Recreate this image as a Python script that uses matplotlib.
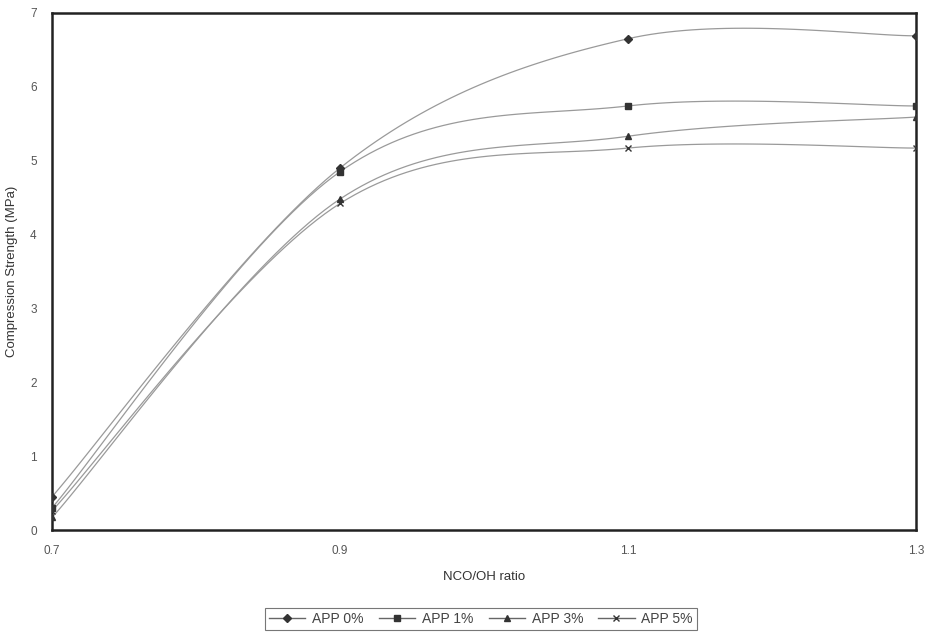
import numpy as np
import matplotlib
matplotlib.use("Agg")
import matplotlib.pyplot as plt

plt.rcParams['font.family'] = ['Liberation Sans', 'DejaVu Sans']

# data
ratio = [0.7, 0.9, 1.1, 1.3]
app0 = [0.45, 4.90, 6.65, 6.69]
app1 = [0.30, 4.85, 5.74, 5.74]
app3 = [0.17, 4.48, 5.33, 5.59]
app5 = [0.26, 4.42, 5.17, 5.17]
labels = ['APP 0%', 'APP 1%', 'APP 3%', 'APP 5%']
markers = ['D', 's', '^', 'x']


# smoothed line like a spreadsheet "smoothed line" chart (bezier through the points)
def smooth(x, y, n=40):
    p = np.column_stack([x, y]).astype(float)
    out = []
    for i in range(len(p) - 1):
        p0 = p[i - 1] if i > 0 else p[i]
        p1 = p[i]
        p2 = p[i + 1]
        p3 = p[i + 2] if i + 2 < len(p) else p[i + 1]
        c1 = p1 + (p2 - p0) / 6
        c2 = p2 - (p3 - p1) / 6
        t = np.linspace(0, 1, n)[:, None]
        seg = (1 - t) ** 3 * p1 + 3 * (1 - t) ** 2 * t * c1 + 3 * (1 - t) * t ** 2 * c2 + t ** 3 * p2
        out.append(seg if i == 0 else seg[1:])
    seg = np.vstack(out)
    return seg[:, 0], seg[:, 1]


fig = plt.figure(figsize=(9.34, 6.44), dpi=100)
ax = fig.add_axes([0.0557, 0.177, 0.925, 0.803])

for ys, lab, m in zip([app0, app1, app3, app5], labels, markers):
    sx, sy = smooth(ratio, ys)
    ax.plot(sx, sy, color='#9a9a9a', lw=0.9, zorder=2)
    ms = 4.5 if m != 'x' else 5
    ax.plot(ratio, ys, linestyle='none', marker=m, ms=ms, color='#333333',
            mec='#333333', mew=1.0, zorder=3)
    # legend proxy
    ax.plot([], [], color='#666666', lw=1.0, marker=m, ms=4, mec='#333333',
            mfc='#333333', label=lab)

ax.set_xlim(0.7, 1.3)
ax.set_ylim(0, 7)
ax.set_xticks(ratio)
ax.set_xticklabels(['0.7', '0.9', '1.1', '1.3'])
ax.set_yticks(range(8))
ax.tick_params(length=0, labelsize=8.5, labelcolor='#555555')
ax.tick_params(axis='x', pad=11)
ax.tick_params(axis='y', pad=11)
for s in ax.spines.values():
    s.set_linewidth(1.8)
    s.set_color('#222222')

ax.set_xlabel('NCO/OH ratio', fontsize=9.5, color='#333333', labelpad=10)
ax.set_ylabel('Compression Strength (MPa)', fontsize=9.5, color='#333333', labelpad=9)

leg = fig.legend(loc='center', bbox_to_anchor=(0.515, 0.039), ncol=4, fontsize=10,
                 frameon=True, fancybox=False, edgecolor='#555555',
                 handlelength=2.6, columnspacing=1.1, handletextpad=0.5,
                 borderpad=0.3)
leg.get_frame().set_linewidth(0.8)
for t in leg.get_texts():
    t.set_color('#444444')

fig.savefig('out.png', dpi=100)
